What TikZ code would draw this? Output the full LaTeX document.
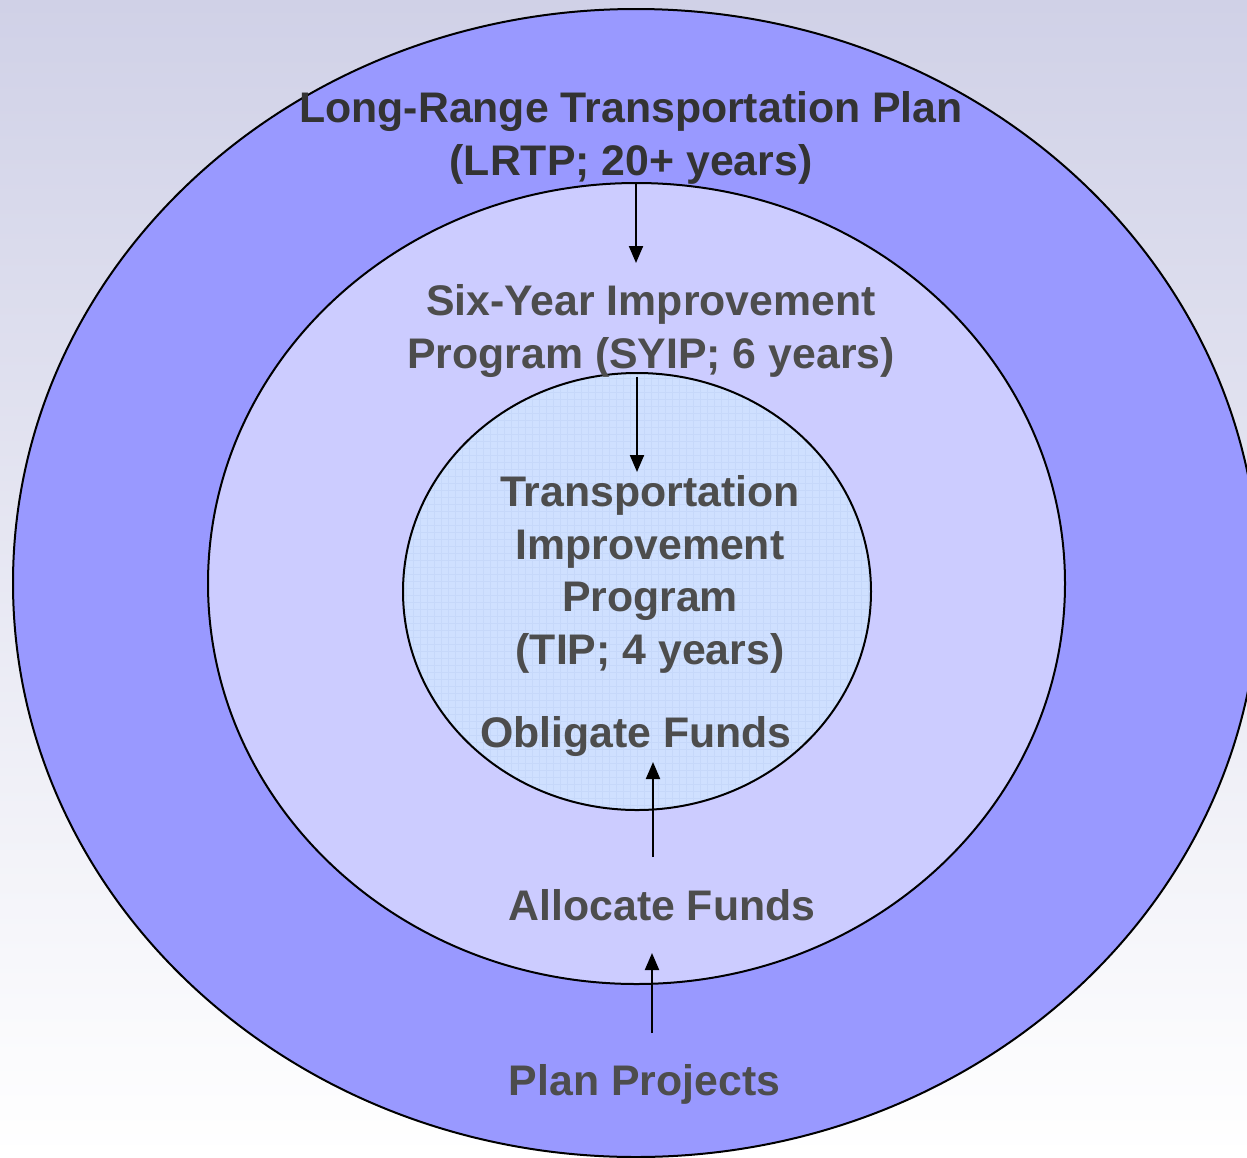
\documentclass[tikz,border=0pt]{standalone}
\usepackage{fontspec}
\setmainfont{Liberation Sans}
\usetikzlibrary{arrows.meta}
\definecolor{bgtop}{RGB}{208,209,231}
\definecolor{outerc}{RGB}{153,153,255}
\definecolor{midc}{RGB}{204,204,255}
\definecolor{innerc}{RGB}{207,224,255}
\definecolor{gridc}{RGB}{198,216,250}
\definecolor{txtdark}{RGB}{51,51,51}
\definecolor{txtgray}{RGB}{77,77,77}
\begin{document}
\begin{tikzpicture}[x=1pt,y=-1pt,
  ring/.style={draw=black,line width=2pt},
  lbl/.style={font=\fontsize{42.8}{52.5}\selectfont\bfseries, text=txtgray, align=center, inner sep=0pt, anchor=base},
  arr/.style={line width=2pt, -{Triangle[length=17pt,width=14pt]}}]
\useasboundingbox (0,0) rectangle (1247,1157);
\clip (0,0) rectangle (1247,1157);
\shade[top color=bgtop, bottom color=white] (0,0) rectangle (1247,1157);
% rings
\draw[ring, fill=outerc] (636,583) ellipse [x radius=623pt, y radius=574pt];
\draw[ring, fill=midc] (636.5,583.5) ellipse [x radius=428.5pt, y radius=400.5pt];
\fill[innerc] (637,591.5) ellipse [x radius=234pt, y radius=218.5pt];
\begin{scope}
  \clip (637,591.5) ellipse [x radius=234pt, y radius=218.5pt];
  \draw[gridc, line width=0.4pt, step=7pt] (400,370) grid (875,815);
\end{scope}
\draw[ring] (637,591.5) ellipse [x radius=234pt, y radius=218.5pt];
% labels (base anchor = baseline of the last line)
\node[lbl, text=txtdark] (lrtp) at (631,175) {Long-Range Transportation Plan\\(LRTP; 20+ years)};
\node[lbl] (syip) at (651,368) {Six-Year Improvement\\Program (SYIP; 6 years)};
\node[lbl] (tip) at (650,664) {Transportation\\Improvement\\Program\\(TIP; 4 years)};
\node[lbl] (obl) at (636,747) {Obligate Funds};
\node[lbl] (alloc) at (662,920) {Allocate Funds};
\node[lbl] (plan) at (644.5,1095) {Plan Projects};
% arrow end points
\coordinate (t1) at (636,263);
\coordinate (t2) at (637,472);
\coordinate (s3) at (653,857);
\coordinate (t3) at (653,762);
\coordinate (s4) at (652,1033);
\coordinate (t4) at (652,953);
\draw[arr] (lrtp.south -| t1) -- (t1);
\draw[arr] (syip.south -| t2) -- (t2);
\draw[arr] (s3) -- (t3);
\draw[arr] (s4) -- (t4);
\end{tikzpicture}
\end{document}
